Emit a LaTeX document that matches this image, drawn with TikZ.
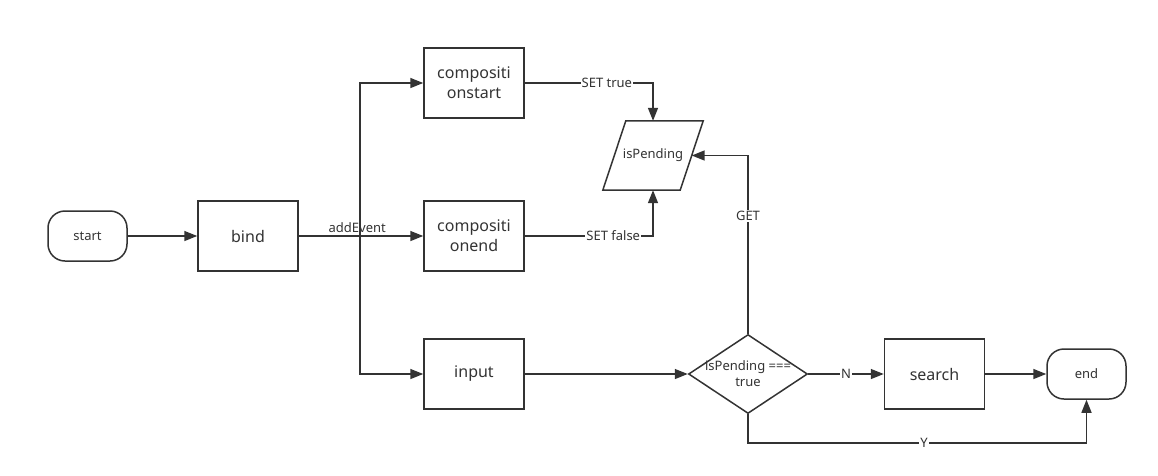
\documentclass[tikz,border=0pt]{standalone}
\usepackage{fontspec}
\setmainfont{Noto Sans}
\usetikzlibrary{shapes.geometric,arrows.meta}
\definecolor{ln}{HTML}{333333}
\begin{document}
\begin{tikzpicture}[x=1pt,y=-1pt,
  every node/.style={text=ln},
  procbox/.style={draw=ln, line width=1.5pt, minimum width=100pt, minimum height=70pt, inner sep=0pt, align=center, font=\fontsize{16}{20}\selectfont},
  termbox/.style={draw=ln, line width=1.5pt, rounded corners=17pt, minimum width=79pt, minimum height=50pt, inner sep=0pt, font=\fontsize{13}{16}\selectfont},
  decbox/.style={draw=ln, line width=1.5pt, diamond, minimum width=119pt, minimum height=79pt, inner sep=0pt},
  smalltxt/.style={font=\fontsize{13}{16}\selectfont, align=center, inner sep=0pt},
  lbl/.style={fill=white, inner sep=1pt, font=\fontsize{13}{16}\selectfont},
  arr/.style={draw=ln, line width=1.5pt, -{Triangle[length=13pt,width=10pt]}},
  plain/.style={draw=ln, line width=1.5pt}
]
\useasboundingbox (0,0) rectangle (1158,475);

\node[termbox] (start) at (87.5,236) {start};
\node[procbox] (bind) at (248,236) {bind};
\node[procbox] (cstart) at (474,83) {compositi\\onstart};
\node[procbox] (cend) at (474,236) {compositi\\onend};
\node[procbox] (input) at (474,374) {input};
\node[minimum width=77pt, minimum height=69pt, inner sep=0pt, font=\fontsize{13}{16}\selectfont] (isp) at (653,155.5) {isPending};
\draw[plain] ([xshift=11.5pt]isp.north west) -- ([xshift=11.5pt]isp.north east)
  -- ([xshift=-11.5pt]isp.south east) -- ([xshift=-11.5pt]isp.south west) -- cycle;
\node[decbox] (dec) at (748,374) {};
\node[smalltxt] (dectxt) at (dec) {isPending ===\\true};
\node[procbox] (search) at (934.5,374) {search};
\node[termbox] (end) at (1086.5,374) {end};
\coordinate (br) at (360,236);
\coordinate (yc) at (1086.5,443);

\draw[arr] (start) -- (bind);
\draw[arr] (bind.east) -- node[pos=0.47, above=3pt, smalltxt] {addEvent} (cend.west);
\draw[arr] (br) |- (cstart.west);
\draw[arr] (br) |- (input.west);
\draw[arr] (cstart.east) -| node[pos=0.32, lbl] {SET true} (isp.north);
\draw[arr] (cend.east) -| node[pos=0.345, lbl] {SET false} (isp.south);
\draw[arr] (dec.north) |- node[pos=0.33, lbl] {GET} (isp.east);
\draw[arr] (input.east) -- (dec.west);
\draw[arr] (dec.east) -- node[midway, lbl] {N} (search.west);
\draw[arr] (search.east) -- (end.west);
\draw[arr] (dec.south) |- node[pos=0.76, lbl] {Y} (yc) -- (end.south);
\end{tikzpicture}
\end{document}
